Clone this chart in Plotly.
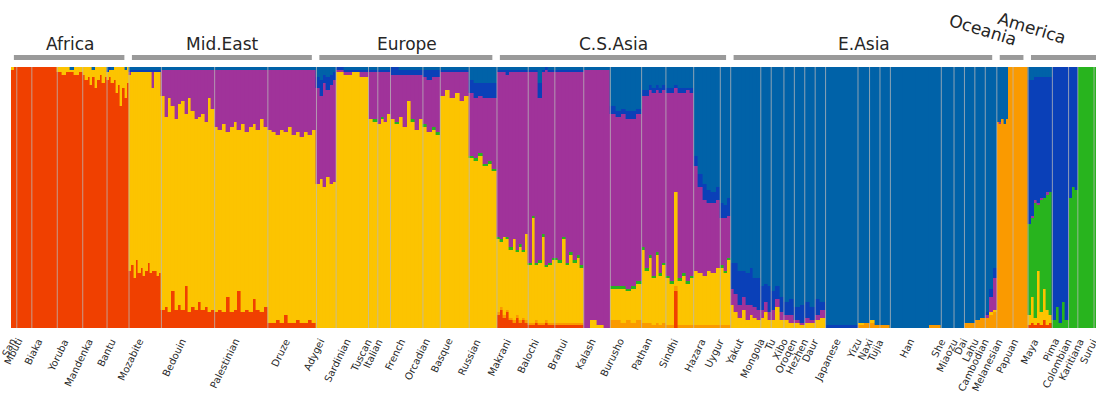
import plotly.graph_objects as go

# ---- ancestry components (bottom -> top) ----
components = ["African", "Oceanian", "European", "American", "C.S.Asian", "Amerind-2", "E.Asian"]
colors = ["#F04000", "#FA9A00", "#FCC400", "#28B41E", "#A0339A", "#0A40B8", "#0062A8"]

# each bar: percentages for (African, Oceanian, European, American, C.S.Asian, Amerind-2, E.Asian)
africa_pops = ["San", "Mbuti", "Biaka", "Yoruba", "Mandenka", "Bantu"]
africa_n = [5, 13, 22, 22, 21, 19]
africa_bars = [
    [(99, 0, 1, 0, 0, 0, 0), (100, 0, 0, 0, 0, 0, 0)],
    [(100, 0, 0, 0, 0, 0, 0)],
    [(100, 0, 0, 0, 0, 0, 0)],
    [(98, 0, 2, 0, 0, 0, 0), (97, 0, 3, 0, 0, 0, 0), (98, 0, 2, 0, 0, 0, 0), (98, 0, 1, 0, 0, 0, 1),
     (97, 0, 3, 0, 0, 0, 0), (98, 0, 2, 0, 0, 0, 0)],
    [(97, 0, 3, 0, 0, 0, 0), (95, 0, 5, 0, 0, 0, 0), (96, 0, 4, 0, 0, 0, 0), (93, 0, 7, 0, 0, 0, 0),
     (96, 0, 3, 0, 0, 0, 1), (92, 0, 8, 0, 0, 0, 0), (95, 0, 5, 0, 0, 0, 0), (97, 0, 3, 0, 0, 0, 0),
     (94, 0, 6, 0, 0, 0, 0), (96, 0, 4, 0, 0, 0, 0)],
    [(95, 0, 3, 0, 0, 1, 1), (96, 0, 3, 0, 0, 1, 0), (94, 0, 5, 0, 0, 0, 1), (95, 0, 5, 0, 0, 0, 0),
     (90, 0, 10, 0, 0, 0, 0), (93, 0, 7, 0, 0, 0, 0), (85, 0, 15, 0, 0, 0, 0), (92, 0, 8, 0, 0, 0, 0),
     (88, 0, 11, 0, 0, 0, 1), (94, 0, 6, 0, 0, 0, 0)],
]

mideast_pops = ["Mozabite", "Bedouin", "Palestinian", "Druze"]
mideast_n = [28, 46, 46, 42]
mideast_bars = [
    [(22, 0, 75, 0, 1, 1, 1), (24, 0, 74, 0, 0, 1, 1), (19, 0, 79, 0, 0, 1, 1), (26, 0, 72, 0, 0, 1, 1),
     (21, 0, 77, 0, 0, 1, 1), (23, 0, 75, 0, 0, 1, 1), (20, 0, 78, 0, 0, 1, 1), (22, 0, 76, 0, 0, 1, 1),
     (25, 0, 73, 0, 0, 1, 1), (21, 0, 77, 0, 0, 1, 1), (22, 0, 70, 0, 6, 1, 1), (22, 0, 76, 0, 0, 1, 1),
     (20, 0, 78, 0, 0, 1, 1), (21, 0, 77, 0, 0, 1, 1)],
    [(7, 0, 82, 0, 10, 0, 1), (8, 0, 73, 0, 18, 0, 1), (6, 0, 82, 0, 11, 0, 1), (14, 0, 71, 0, 14, 0, 1),
     (7, 0, 73, 0, 19, 0, 1), (9, 0, 77, 0, 13, 0, 1), (7, 0, 80, 0, 12, 0, 1), (16, 0, 66, 0, 17, 0, 1),
     (6, 0, 82, 0, 11, 0, 1), (8, 0, 75, 0, 16, 0, 1), (7, 0, 73, 0, 19, 0, 1), (10, 0, 71, 0, 18, 0, 1),
     (7, 0, 75, 0, 17, 0, 1), (8, 0, 71, 0, 20, 0, 1), (6, 0, 82, 0, 11, 0, 1), (7, 0, 77, 0, 15, 0, 1)],
    [(6, 0, 71, 0, 22, 0, 1), (7, 0, 69, 0, 23, 0, 1), (6, 0, 72, 0, 21, 0, 1), (12, 0, 63, 0, 24, 0, 1),
     (6, 0, 71, 0, 22, 0, 1), (7, 0, 72, 0, 20, 0, 1), (14, 0, 62, 0, 23, 0, 1), (6, 0, 72, 0, 21, 0, 1),
     (7, 0, 68, 0, 24, 0, 1), (6, 0, 71, 0, 22, 0, 1), (11, 0, 67, 0, 21, 0, 1), (7, 0, 69, 0, 23, 0, 1),
     (6, 0, 74, 0, 19, 0, 1), (8, 0, 69, 0, 22, 0, 1)],
    [(2, 0, 74, 0, 23, 0, 1), (2, 0, 73, 0, 24, 0, 1), (3, 0, 71, 0, 25, 0, 1), (2, 0, 74, 0, 23, 0, 1),
     (5, 0, 70, 0, 24, 0, 1), (2, 0, 75, 0, 22, 0, 1), (2, 0, 72, 0, 25, 0, 1), (3, 0, 72, 0, 24, 0, 1),
     (2, 0, 71, 0, 26, 0, 1), (2, 0, 73, 0, 24, 0, 1), (3, 0, 71, 0, 25, 0, 1), (2, 0, 74, 0, 23, 0, 1)],
]

europe_pops = ["Adygei", "Sardinian", "Tuscan", "Italian", "French", "Orcadian", "Basque", "Russian"]
europe_n = [17, 28, 8, 11, 28, 15, 25, 24]
europe_bars = [
    [(0, 0, 55, 0, 37, 4, 4), (0, 0, 57, 0, 32, 6, 5), (0, 0, 54, 0, 40, 3, 3), (0, 0, 58, 0, 33, 5, 4),
     (0, 0, 55, 0, 38, 4, 3), (0, 0, 56, 0, 39, 3, 2)],
    [(0, 0, 98, 0, 1, 1, 0), (0, 0, 97, 0, 1, 1, 1), (0, 0, 98, 0, 0, 1, 1), (0, 0, 96, 0, 2, 1, 1)],
    [(0, 0, 80, 0, 18, 1, 1), (0, 0, 79, 1, 18, 1, 1)],
    [(0, 0, 78, 0, 20, 1, 1), (0, 0, 80, 1, 17, 1, 1), (0, 0, 79, 0, 19, 1, 1), (0, 0, 82, 0, 16, 1, 1)],
    [(0, 0, 80, 0, 17, 3, 0), (0, 0, 78, 1, 18, 3, 0), (0, 0, 81, 0, 16, 2, 1), (0, 0, 77, 0, 20, 2, 1),
     (0, 0, 87, 0, 10, 2, 1), (0, 0, 79, 1, 17, 2, 1), (0, 0, 76, 0, 21, 2, 1), (0, 0, 80, 0, 17, 2, 1)],
    [(0, 0, 77, 1, 18, 3, 1), (0, 0, 75, 0, 20, 4, 1), (0, 0, 76, 1, 19, 3, 1), (0, 0, 74, 1, 21, 3, 1)],
    [(0, 0, 89, 0, 9, 1, 1), (0, 0, 91, 0, 7, 1, 1), (0, 0, 88, 0, 10, 1, 1), (0, 0, 90, 0, 8, 1, 1),
     (0, 0, 87, 0, 11, 1, 1), (0, 0, 89, 0, 9, 1, 1)],
    [(0, 0, 65, 1, 24, 5, 5), (0, 0, 64, 1, 23, 6, 6), (0, 0, 66, 1, 22, 5, 6), (0, 0, 62, 1, 25, 6, 6),
     (0, 0, 63, 1, 24, 6, 6), (0, 0, 60, 1, 27, 6, 6)],
]

csasia_pops = ["Makrani", "Balochi", "Brahui", "Kalash", "Burusho", "Pathan", "Sindhi", "Hazara", "Uygur"]
csasia_n = [27, 23, 25, 23, 27, 21, 24, 23, 9]
csasia_bars = [
    [(5, 1, 28, 1, 63, 1, 1), (7, 1, 25, 1, 64, 1, 1), (4, 1, 30, 0, 63, 1, 1), (6, 1, 27, 1, 62, 2, 1),
     (3, 1, 26, 1, 67, 1, 1), (2, 1, 31, 0, 64, 1, 1), (4, 1, 24, 1, 68, 1, 1), (2, 1, 28, 1, 66, 1, 1),
     (3, 1, 25, 1, 68, 1, 1), (2, 1, 33, 0, 62, 1, 1)],
    [(1, 1, 22, 1, 73, 1, 1), (1, 1, 40, 1, 55, 1, 1), (2, 1, 21, 1, 73, 1, 1), (1, 1, 23, 1, 62, 6, 6),
     (1, 1, 33, 1, 62, 1, 1), (2, 1, 20, 1, 74, 1, 0), (1, 1, 22, 1, 73, 1, 1), (1, 1, 24, 1, 71, 1, 1)],
    [(1, 1, 24, 1, 71, 1, 1), (1, 1, 23, 1, 72, 1, 1), (1, 1, 32, 1, 63, 1, 1), (1, 1, 22, 1, 73, 1, 1),
     (1, 1, 26, 1, 69, 1, 1), (1, 1, 23, 1, 72, 1, 1), (1, 1, 25, 1, 70, 1, 1), (1, 1, 21, 1, 74, 1, 1)],
    [(0, 0, 0, 0, 99, 0, 1), (0, 0, 3, 0, 96, 0, 1), (0, 0, 1, 0, 98, 0, 1), (0, 0, 0, 0, 99, 0, 1)],
    [(0, 3, 12, 1, 66, 3, 15), (0, 3, 12, 1, 65, 2, 17), (0, 2, 13, 1, 66, 2, 16), (0, 3, 11, 1, 65, 3, 17),
     (0, 2, 13, 1, 64, 3, 17), (0, 3, 14, 1, 64, 2, 16)],
    [(0, 2, 28, 1, 58, 2, 9), (0, 2, 20, 1, 66, 2, 9), (0, 2, 25, 1, 63, 2, 7), (0, 1, 18, 1, 70, 2, 8),
     (0, 2, 26, 1, 62, 2, 7), (0, 1, 19, 1, 69, 2, 8), (0, 2, 22, 1, 66, 2, 7)],
    [(0, 1, 18, 1, 70, 2, 8), (0, 1, 16, 1, 72, 2, 8), (14, 2, 36, 0, 40, 1, 7), (0, 1, 17, 1, 71, 2, 8),
     (0, 1, 19, 1, 69, 2, 8), (0, 1, 16, 1, 73, 1, 8), (0, 1, 18, 1, 70, 2, 8)],
    [(0, 1, 21, 0, 40, 4, 34), (0, 1, 20, 0, 33, 5, 41), (0, 1, 19, 0, 29, 6, 45), (0, 1, 21, 0, 26, 5, 47),
     (0, 1, 20, 0, 27, 4, 48), (0, 1, 22, 0, 26, 5, 46)],
    [(0, 1, 22, 1, 18, 6, 52), (0, 1, 20, 1, 20, 5, 53), (0, 1, 25, 1, 16, 7, 50)],
]

easia_pops = ["Yakut", "Mongola", "Tu", "Xibo", "Oroqen", "Hezhen", "Daur", "Japanese", "Yizu", "Naxi",
              "Tujia", "Han", "She", "Miaozu", "Dai", "Lahu", "Cambodian"]
easia_n = [26, 9, 11, 9, 9, 9, 9, 28, 10, 9, 9, 44, 11, 9, 9, 9, 10]
easia_bars = [
    [(0, 0, 9, 0, 6, 10, 75), (0, 0, 6, 0, 7, 12, 75), (0, 0, 4, 0, 5, 13, 78), (0, 0, 7, 0, 5, 10, 78),
     (0, 0, 3, 0, 6, 12, 79), (0, 0, 5, 0, 4, 14, 77), (0, 0, 4, 0, 4, 11, 81), (0, 0, 3, 0, 4, 12, 81)],
    [(0, 0, 4, 0, 3, 9, 84), (0, 0, 6, 0, 4, 7, 83), (0, 0, 3, 0, 3, 10, 84)],
    [(0, 0, 3, 0, 4, 7, 86), (0, 0, 8, 0, 3, 5, 84), (0, 0, 3, 0, 3, 6, 88)],
    [(0, 0, 3, 0, 2, 5, 90), (0, 0, 2, 0, 3, 6, 89)],
    [(0, 0, 2, 0, 1, 5, 92), (0, 0, 1, 0, 1, 7, 91)],
    [(0, 0, 2, 0, 2, 6, 90), (0, 0, 2, 0, 1, 5, 92)],
    [(0, 0, 3, 0, 2, 6, 89), (0, 0, 4, 0, 3, 3, 90)],
    [(0, 0, 0, 0, 0, 1, 99)],
    [(0, 1, 1, 0, 0, 0, 98), (0, 2, 0, 0, 0, 0, 98)],
    [(0, 2, 1, 0, 0, 0, 97), (0, 1, 0, 0, 0, 0, 99)],
    [(0, 1, 0, 0, 0, 0, 99)],
    [(0, 0, 0, 0, 0, 0, 100), (0, 0, 0, 0, 0, 0, 100), (0, 0, 0, 0, 0, 0, 100), (0, 1, 0, 0, 0, 0, 99)],
    [(0, 0, 0, 0, 0, 0, 100)],
    [(0, 0, 0, 0, 0, 0, 100)],
    [(0, 2, 0, 0, 0, 0, 98)],
    [(0, 3, 0, 0, 0, 0, 97), (0, 4, 0, 0, 0, 0, 96)],
    [(0, 4, 0, 0, 1, 1, 94), (0, 5, 1, 0, 6, 3, 85), (0, 6, 1, 0, 12, 4, 77)],
]

oceania_pops = ["Melanesian", "Papuan"]
oceania_n = [14, 13]
oceania_bars = [
    [(0, 79, 0, 0, 0, 0, 21), (0, 78, 0, 0, 1, 0, 21), (0, 80, 0, 0, 0, 0, 20), (0, 78, 0, 0, 0, 0, 22),
     (0, 80, 0, 0, 0, 0, 20), (0, 100, 0, 0, 0, 0, 0), (0, 100, 0, 0, 0, 0, 0)],
    [(0, 100, 0, 0, 0, 0, 0)],
]

america_pops = ["Maya", "Pima", "Colombian", "Karitiana", "Surui"]
america_n = [21, 14, 8, 14, 8]
america_bars = [
    [(1, 0, 4, 35, 0, 55, 5), (2, 0, 10, 30, 1, 52, 5), (1, 0, 3, 44, 1, 47, 4), (2, 0, 20, 25, 1, 48, 4),
     (1, 0, 5, 43, 1, 46, 4), (3, 0, 12, 35, 0, 46, 4), (1, 0, 6, 44, 1, 44, 4), (2, 0, 3, 47, 0, 44, 4)],
    [(0, 0, 0, 3, 0, 97, 0), (0, 0, 0, 8, 0, 92, 0), (0, 0, 0, 2, 0, 98, 0), (0, 0, 0, 10, 0, 90, 0),
     (0, 0, 0, 3, 0, 97, 0)],
    [(0, 0, 0, 50, 0, 50, 0), (0, 0, 0, 54, 0, 46, 0), (0, 0, 0, 53, 0, 47, 0)],
    [(0, 0, 0, 100, 0, 0, 0)],
    [(0, 0, 0, 100, 0, 0, 0)],
]

regions = ["Africa", "Mid.East", "Europe", "C.S.Asia", "E.Asia", "Oceania", "America"]
region_pops = [africa_pops, mideast_pops, europe_pops, csasia_pops, easia_pops, oceania_pops, america_pops]
region_n = [africa_n, mideast_n, europe_n, csasia_n, easia_n, oceania_n, america_n]
region_bars = [africa_bars, mideast_bars, europe_bars, csasia_bars, easia_bars, oceania_bars, america_bars]

# ---- build bars ----
xs, ws = [], []
vals = [[] for _ in components]
pop_bounds, pop_centers, pop_labels = [], [], []
region_spans = []
cursor = 0.0
for pops, ns, bars in zip(region_pops, region_n, region_bars):
    r0 = cursor
    for name, n, prof in zip(pops, ns, bars):
        k = len(prof)
        w = n / k
        for i, b in enumerate(prof):
            tot = float(sum(b))
            xs.append(cursor + (i + 0.5) * w)
            ws.append(w)
            for c in range(len(components)):
                vals[c].append(b[c] / tot)
        pop_centers.append(cursor + n / 2)
        pop_labels.append(name)
        cursor += n
        pop_bounds.append(cursor)
    region_spans.append((r0, cursor))

X_MAX = 937.7

fig = go.Figure()
for c, (nm, col) in enumerate(zip(components, colors)):
    fig.add_trace(go.Bar(
        x=xs, y=vals[c], width=ws, name=nm,
        marker=dict(color=col, line=dict(width=0.4, color=col)),
        hoverinfo="skip", showlegend=False,
    ))

shapes = []
# population separators
for b in pop_bounds[:-1]:
    shapes.append(dict(type="line", xref="x", yref="y", x0=b, x1=b, y0=0, y1=1,
                       line=dict(color="rgba(185,185,185,0.75)", width=1), layer="above"))
# region bars
for (r0, r1) in region_spans:
    shapes.append(dict(type="rect", xref="x", yref="paper", x0=r0 + 2.5, x1=r1 - 4.0,
                       y0=1.027, y1=1.046, fillcolor="#9a9a9a", line=dict(width=0)))

annotations = []
region_style = {
    "Oceania": dict(textangle=17, y=1.140, xshift=-29),
    "America": dict(textangle=17, y=1.150, xshift=-30),
}
for name, (r0, r1) in zip(regions, region_spans):
    st = region_style.get(name, dict(textangle=0, y=1.088, xshift=0))
    cx = (r0 + min(r1, X_MAX)) / 2 if name == "America" else (r0 + r1) / 2
    annotations.append(dict(text=name, x=cx, xref="x", y=st["y"], yref="paper",
                            showarrow=False, xanchor="center", yanchor="middle",
                            textangle=st["textangle"], xshift=st["xshift"],
                            font=dict(family="DejaVu Sans", size=17, color="#262626")))

for name, cx in zip(pop_labels, pop_centers):
    if cx <= X_MAX:
        xr, xv = "x", cx
    else:
        xr, xv = "paper", cx / X_MAX
    annotations.append(dict(text=name, x=xv, xref=xr, y=-0.024, yref="paper",
                            showarrow=False, xanchor="right", yanchor="top",
                            textangle=-64, xshift=(7 if name == "San" else 3),
                            font=dict(family="DejaVu Sans", size=10, color="#2a2a2a")))

fig.update_layout(
    width=1096, height=394,
    margin=dict(l=11, r=0, t=67, b=66),
    barmode="stack", bargap=0,
    paper_bgcolor="white", plot_bgcolor="white",
    xaxis=dict(range=[0, X_MAX], visible=False, fixedrange=True),
    yaxis=dict(range=[0, 1], visible=False, fixedrange=True),
    shapes=shapes, annotations=annotations,
    showlegend=False,
)

fig.write_html(
    "out.html",
    config={"displayModeBar": False},
    post_script="document.body.style.margin='0';document.body.style.overflow='hidden';",
)
